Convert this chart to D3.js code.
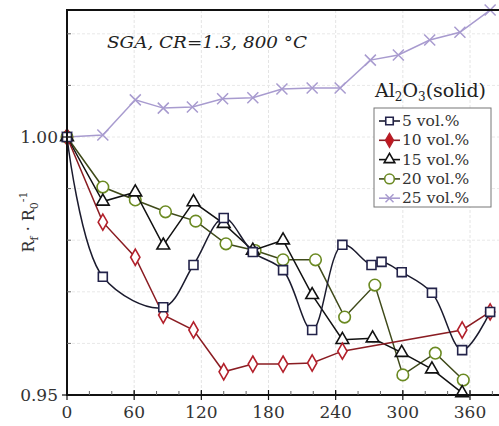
<!DOCTYPE html>
<html><head><meta charset="utf-8">
<script src="https://cdn.jsdelivr.net/npm/d3@7"></script>
<style>html,body{margin:0;padding:0;background:#fff;overflow:hidden}</style>
</head><body>
<svg id="c" width="499" height="426"></svg>
<script>
// ---- data (time in min, normalized resistance) ----
const t5  = [0, 32, 86, 113, 140, 166, 193, 219, 246, 272, 281, 299, 326, 353, 378];
const v5  = [1.000, 0.9729, 0.9670, 0.9752, 0.9843, 0.9777, 0.9742, 0.9626, 0.9791, 0.9752, 0.9758, 0.9738, 0.9698, 0.9587, 0.9661];
const t10 = [0, 32, 61, 86, 113, 140, 166, 193, 219, 246, 353, 378];
const v10 = [1.000, 0.9835, 0.9767, 0.9655, 0.9626, 0.9545, 0.9560, 0.9560, 0.9562, 0.9585, 0.9626, 0.9661];
const t15 = [0, 32, 61, 86, 113, 140, 166, 193, 219, 246, 273, 299, 326, 353];
const v15 = [1.000, 0.9875, 0.9893, 0.9790, 0.9874, 0.9832, 0.9780, 0.9800, 0.9694, 0.9607, 0.9610, 0.9582, 0.9550, 0.9504];
const t20 = [0, 32, 61, 88, 115, 142, 168, 193, 222, 248, 275, 300, 329, 354];
const v20 = [1.000, 0.9903, 0.9878, 0.9855, 0.9837, 0.9793, 0.9780, 0.9762, 0.9762, 0.9651, 0.9713, 0.9539, 0.9581, 0.9529];
const t25 = [0, 32, 61, 86, 112, 139, 166, 192, 219, 244, 271, 296, 324, 351, 378];
const v25 = [1.000, 1.0004, 1.0072, 1.0056, 1.0058, 1.0074, 1.0076, 1.0093, 1.0095, 1.0095, 1.0149, 1.0159, 1.0188, 1.0203, 1.0246];
const seriesNames = ["5 vol.%", "10 vol.%", "15 vol.%", "20 vol.%", "25 vol.%"];
const xTickLabels = [0, 60, 120, 180, 240, 300, 360];
const yTickLabels = [0.95, 1.00];
const chartTitle = "SGA, CR=1.3, 800 °C";

const svg = d3.select("#c");
const x = d3.scaleLinear().domain([0, 360]).range([67, 470]);
const y = d3.scaleLinear().domain([0.95, 1.00]).range([395, 137]);
const yTop = 10;
const serif = "'DejaVu Serif', 'Liberation Serif', serif";

// grid
const g = svg.append("g");
g.selectAll(".vg").data(d3.range(60, 400, 60)).join("line")
  .attr("x1", d => x(d)).attr("x2", d => x(d)).attr("y1", yTop).attr("y2", 395)
  .attr("stroke", "#e4e4e4").attr("stroke-width", 1).attr("stroke-dasharray", "3,2");
g.selectAll(".hg").data(d3.range(0.96, 1.021, 0.01)).join("line")
  .attr("x1", 67).attr("x2", 499).attr("y1", d => y(d)).attr("y2", d => y(d))
  .attr("stroke", "#e8e8e8").attr("stroke-width", 1).attr("stroke-dasharray", "3,2");

// series definitions
const series = [
  {name: seriesNames[0], t: t5,  v: v5,  line: "#1b1b2e", stroke: "#23234a", fill: "#fff", sym: d3.symbolSquare, size: 80, curve: d3.curveCatmullRom.alpha(0.5)},
  {name: seriesNames[1], t: t10, v: v10, line: "#8a1c22", stroke: "#b3202b", fill: "#fff", lfill: "#c4161c", sym: d3.symbolDiamond, size: 75, curve: d3.curveLinear},
  {name: seriesNames[2], t: t15, v: v15, line: "#111", stroke: "#111", fill: "#fff", sym: d3.symbolTriangle, size: 70, curve: d3.curveLinear},
  {name: seriesNames[3], t: t20, v: v20, line: "#3f4a1a", stroke: "#6b8a22", fill: "#fff", sym: d3.symbolCircle, size: 105, curve: d3.curveLinear},
  {name: seriesNames[4], t: t25, v: v25, line: "#a89bcf", stroke: "#a89bcf", fill: "none", sym: "x", size: 10, curve: d3.curveLinear}
];

function drawMarker(sel, s, cx, cy, legend) {
  if (s.sym === "x") {
    const h = legend ? 4 : 5.5;
    sel.append("path")
      .attr("d", `M${cx-h},${cy-h}L${cx+h},${cy+h}M${cx-h},${cy+h}L${cx+h},${cy-h}`)
      .attr("stroke", s.stroke).attr("stroke-width", 1.5).attr("fill", "none");
  } else {
    sel.append("path")
      .attr("d", d3.symbol().type(s.sym).size(s.size)())
      .attr("transform", `translate(${cx},${cy})`)
      .attr("fill", legend && s.lfill ? s.lfill : s.fill)
      .attr("stroke", s.stroke).attr("stroke-width", 1.6);
  }
}

const plot = svg.append("g");
[4, 3, 2, 1, 0].forEach(i => {
  const s = series[i];
  const pts = s.t.map((t, k) => [t, s.v[k]]);
  const line = d3.line().x(d => x(d[0])).y(d => y(d[1])).curve(s.curve);
  plot.append("path").attr("d", line(pts)).attr("fill", "none")
    .attr("stroke", s.line).attr("stroke-width", 1.5);
  const mg = plot.append("g");
  pts.forEach(p => drawMarker(mg, s, x(p[0]), y(p[1]), false));
});

// frame / axes
const ax = svg.append("g").attr("stroke", "#111");
ax.append("line").attr("x1", 67).attr("x2", 67).attr("y1", yTop - 1).attr("y2", 396).attr("stroke-width", 2);
ax.append("line").attr("x1", 66).attr("x2", 499).attr("y1", 395).attr("y2", 395).attr("stroke-width", 2);
ax.append("line").attr("x1", 66).attr("x2", 499).attr("y1", yTop).attr("y2", yTop).attr("stroke-width", 2);

ax.selectAll(".xm").data(d3.range(20, 400, 20)).join("line")
  .attr("x1", d => x(d)).attr("x2", d => x(d)).attr("y1", 395).attr("y2", 391)
  .attr("stroke-width", 1).attr("stroke", "#666");
ax.selectAll(".xM").data(xTickLabels).join("line")
  .attr("x1", d => x(d)).attr("x2", d => x(d)).attr("y1", 390).attr("y2", 400)
  .attr("stroke-width", 1.2);
ax.selectAll(".ym").data(d3.range(0.96, 1.021, 0.01)).join("line")
  .attr("x1", 67).attr("x2", 71).attr("y1", d => y(d)).attr("y2", d => y(d))
  .attr("stroke-width", 1).attr("stroke", "#666");
ax.selectAll(".yM").data(yTickLabels).join("line")
  .attr("x1", 62).attr("x2", 72).attr("y1", d => y(d)).attr("y2", d => y(d))
  .attr("stroke-width", 1.2);

svg.selectAll(".xl").data(xTickLabels).join("text")
  .attr("x", d => x(d)).attr("y", 418).attr("text-anchor", "middle")
  .attr("font-family", serif).attr("font-size", 17).attr("fill", "#333")
  .text(d => d);
svg.selectAll(".yl").data(yTickLabels).join("text")
  .attr("x", 58).attr("y", d => y(d) + 6).attr("text-anchor", "end")
  .attr("font-family", serif).attr("font-size", 17).attr("fill", "#333")
  .text(d => d3.format(".2f")(d));

// y axis title
const yt = svg.append("text").attr("transform", "translate(34,222) rotate(-90)")
  .attr("text-anchor", "middle").attr("font-family", serif).attr("font-size", 16).attr("fill", "#333");
yt.append("tspan").text("R");
yt.append("tspan").attr("font-size", 11).attr("dy", 4).text("f");
yt.append("tspan").attr("dy", -4).text(" · R");
yt.append("tspan").attr("font-size", 11).attr("dy", 4).text("0");
yt.append("tspan").attr("font-size", 11).attr("dy", -11).text("-1");

// chart annotation
svg.append("text").attr("x", 107).attr("y", 48)
  .attr("font-family", serif).attr("font-style", "italic").attr("font-size", 17)
  .attr("fill", "#222").attr("textLength", 200).attr("lengthAdjust", "spacingAndGlyphs")
  .text(chartTitle);

// legend
const lg = svg.append("g");
const lt = lg.append("text").attr("x", 375).attr("y", 97)
  .attr("font-family", serif).attr("font-size", 19).attr("fill", "#222");
lt.append("tspan").text("Al");
lt.append("tspan").attr("font-size", 12).attr("dy", 4).text("2");
lt.append("tspan").attr("dy", -4).text("O");
lt.append("tspan").attr("font-size", 12).attr("dy", 4).text("3");
lt.append("tspan").attr("dy", -4).text("(solid)");

lg.append("rect").attr("x", 374).attr("y", 108).attr("width", 117).attr("height", 99)
  .attr("fill", "#fff").attr("stroke", "#777").attr("stroke-width", 1);
series.forEach((s, i) => {
  const cy = 121 + i * 19.3;
  lg.append("line").attr("x1", 379).attr("x2", 400).attr("y1", cy).attr("y2", cy)
    .attr("stroke", s.line).attr("stroke-width", 1.6);
  drawMarker(lg, Object.assign({}, s, {size: s.sym === "x" ? 0 : s.size * 0.7}), 389.5, cy, true);
  lg.append("text").attr("x", 402).attr("y", cy + 5)
    .attr("font-family", serif).attr("font-size", 15.5).attr("fill", "#333")
    .text(s.name);
});
</script>
</body></html>
